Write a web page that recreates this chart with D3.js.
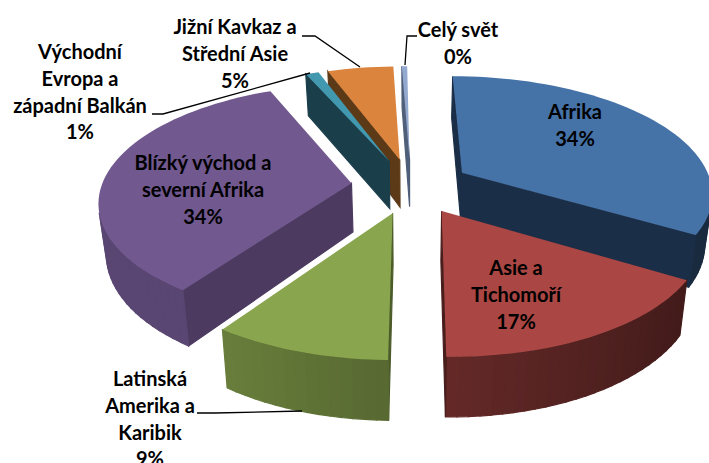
<!DOCTYPE html>
<html>
<head>
<meta charset="utf-8">
<script src="https://cdn.jsdelivr.net/npm/d3@7"></script>
<style>
  body { margin: 0; background: #fff; }
  svg { display: block; }
  text { font-family: Lato, "Open Sans", sans-serif; font-weight: 700; font-size: 20px; fill: #000; }
</style>
</head>
<body>
<svg id="chart"></svg>
<script>
// data, in the order the pie runs clockwise from the top
const categories = ['Afrika', 'Asie a Tichomoří', 'Latinská Amerika a Karibik',
  'Blízký východ a severní Afrika', 'Východní Evropa a západní Balkán',
  'Jižní Kavkaz a Střední Asie', 'Celý svět'];
const shares = [33.5, 16.5, 9.4, 33.7, 1, 5, 0.4];
const shareLabels = ['34%', '17%', '9%', '34%', '1%', '5%', '0%'];

const w = 709, h = 463;
const topColors = ['#4572a7', '#aa4643', '#89a54e', '#71588f', '#4198af', '#db843d', '#93a9cf'];
const faceColors = ['#1b2e47', '#4a1e1c', '#4c5c2a', '#4c3a60', '#1b3e4b', '#5c3a18', '#4f5f7a'];

// how each label is broken up and where it sits
const labelLines = [['Afrika'], ['Asie a', 'Tichomoří'], ['Latinská', 'Amerika a', 'Karibik'],
  ['Blízký východ a', 'severní Afrika'], ['Východní', 'Evropa a', 'západní Balkán'],
  ['Jižní Kavkaz a', 'Střední Asie'], ['Celý svět']];
const labelPos = [[575, 112], [516, 268], [150, 379], [203, 163], [80, 52], [235, 27], [458, 30]];
const leaders = [null, null,
  [[197, 413], [215, 413], [302, 411]], null,
  [[152, 114], [163, 114], [310, 73]],
  [[302, 36], [315, 36], [360, 67]],
  [[417, 36], [407, 36], [405, 65]]];

const explode = 0.24, persp = 0.153, thick = 49, shrink = 0.975, originShift = 0.08;

const xScale = d3.scaleLinear().domain([-1, 1]).range([411 - 250, 411 + 250]);
const yScale = d3.scaleLinear().domain([-1, 1]).range([186 - 115, 186 + 115]);
const cx = xScale(0);
const shade = d3.scaleLinear().domain([-0.8, 1]).range([0.8, 0.38]).clamp(true);
const line = d3.line().curve(d3.curveLinearClosed);

const svg = d3.select('#chart').attr('width', w).attr('height', h);

// ground point (u to the right, v towards the viewer) to the screen
function project(u, v, bottom) {
  const s = 1 / (1 - persp * v);
  const x = xScale(u * s + (s - 1) * originShift), y = yScale(v * s);
  return bottom ? [cx + (x - cx) * shrink, y + thick * s] : [x, y];
}

const slices = d3.pie().sort(null).value(d => d)(shares);

// back to front
const drawOrder = [6, 5, 4, 0, 3, 2, 1];

drawOrder.forEach(i => {
  const sl = slices[i];
  const mid = (sl.startAngle + sl.endAngle) / 2;
  const ox = explode * Math.sin(mid), oy = -explode * Math.cos(mid);
  const base = d3.color(topColors[i]);

  // outline of the slice on the ground
  const outline = [[ox, oy]];
  const n = Math.max(2, Math.ceil((sl.endAngle - sl.startAngle) / 0.04));
  d3.range(n + 1).forEach(k => {
    const a = sl.startAngle + (sl.endAngle - sl.startAngle) * k / n;
    outline.push([ox + Math.sin(a), oy - Math.cos(a)]);
  });

  const g = svg.append('g').attr('class', 'slice');

  outline.forEach((p, k) => {
    const q = outline[(k + 1) % outline.length];
    const quad = [project(p[0], p[1]), project(q[0], q[1]), project(q[0], q[1], true), project(p[0], p[1], true)];
    if (d3.polygonArea(quad) <= 0) return; // faces away
    const radial = k === 0 || k === outline.length - 1;
    let col = faceColors[i];
    if (!radial) {
      const f = shade((p[0] + q[0]) / 2);
      col = d3.rgb(base.r * f, base.g * f, base.b * f).formatHex();
    }
    // stroke overlaps the next strip so no seams show
    g.append('path').attr('d', line(quad)).attr('fill', col).attr('stroke', col).attr('stroke-width', 1.2);
  });

  g.append('path')
    .attr('d', line(outline.map(p => project(p[0], p[1]))))
    .attr('fill', topColors[i]);
});

leaders.forEach(l => {
  if (!l) return;
  svg.append('path')
    .attr('d', d3.line()(l))
    .attr('fill', 'none')
    .attr('stroke', '#000')
    .attr('stroke-width', 1.3);
});

categories.forEach((c, i) => {
  const lines = labelLines[i].concat(shareLabels[i]);
  const t = svg.append('text').attr('text-anchor', 'middle');
  lines.forEach((s, k) => {
    t.append('tspan')
      .attr('x', labelPos[i][0])
      .attr('y', labelPos[i][1] + k * 26.8)
      .attr('dy', '0.35em')
      .text(s);
  });
});
</script>
</body>
</html>
